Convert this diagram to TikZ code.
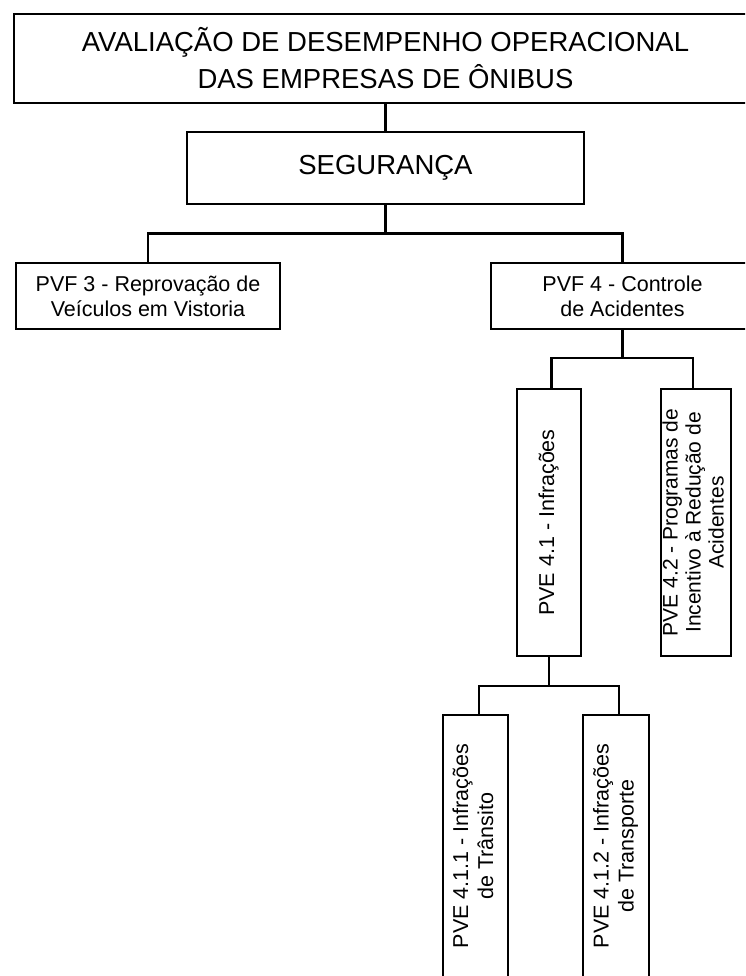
\documentclass[tikz,border=0pt]{standalone}
\usepackage{fontspec}
\setmainfont{Liberation Sans}
\newcommand{\vtext}[1]{\rotatebox{90}{\begin{tabular}{@{}c@{}}#1\end{tabular}}}
\begin{document}
\begin{tikzpicture}[x=1pt,y=-1pt,
  box/.style={draw, line width=2.6pt, inner sep=0pt, align=center,
              font=\fontsize{21.5}{25}\selectfont},
  link/.style={line width=2.3pt}]
\useasboundingbox (0,0) rectangle (745,976);
\clip (0,0) rectangle (745,976);

% hierarchy boxes
\node[box, minimum width=743pt, minimum height=89pt,
      font=\fontsize{27.5}{37}\selectfont] (top) at (385.5,58.5)
  {AVALIAÇÃO DE DESEMPENHO OPERACIONAL\\DAS EMPRESAS DE ÔNIBUS};
\node[box, minimum width=397pt, minimum height=72pt,
      font=\fontsize{27.5}{33}\selectfont] (seg) at (385.5,168) {SEGURANÇA};
\node[box, minimum width=264pt, minimum height=66pt] (pvf3) at (148,296)
  {PVF 3 - Reprovação de\\Veículos em Vistoria};
\node[box, minimum width=263pt, minimum height=66pt] (pvf4) at (622.5,296)
  {PVF 4 - Controle\\de Acidentes};
\node[box, minimum width=64pt, minimum height=267pt] (pve41) at (549,522.5)
  {\vtext{PVE 4.1 - Infrações}};
\node[box, minimum width=70pt, minimum height=267pt,
      font=\fontsize{21}{23}\selectfont] (pve42) at (696,522.5)
  {\vtext{PVE 4.2 - Programas de\\Incentivo à Redução de\\Acidentes}};
\node[box, minimum width=65pt, minimum height=262pt] (pve411) at (475.5,846)
  {\vtext{PVE 4.1.1 - Infrações\\de Trânsito}};
\node[box, minimum width=66pt, minimum height=262pt] (pve412) at (616,846)
  {\vtext{PVE 4.1.2 - Infrações\\de Transporte}};

% junction points of the connectors
\coordinate (b1) at (385.5,233.5);
\coordinate (b2) at (622.5,358);
\coordinate (b3) at (549,685.7);

% connectors
\draw[link] (top.south) -- (seg.north);
\draw[link] (seg.south) -- (b1);
\draw[link] (pvf3.north) |- (b1) -| (pvf4.north);
\draw[link] (pvf4.south) -- (b2);
\draw[link] ([xshift=2.5pt]pve41.north) |- (b2) -| ([xshift=-3.3pt]pve42.north);
\draw[link] (pve41.south) -- (b3);
\draw[link] ([xshift=3.5pt]pve411.north) |- (b3) -| ([xshift=3pt]pve412.north);
\end{tikzpicture}
\end{document}
